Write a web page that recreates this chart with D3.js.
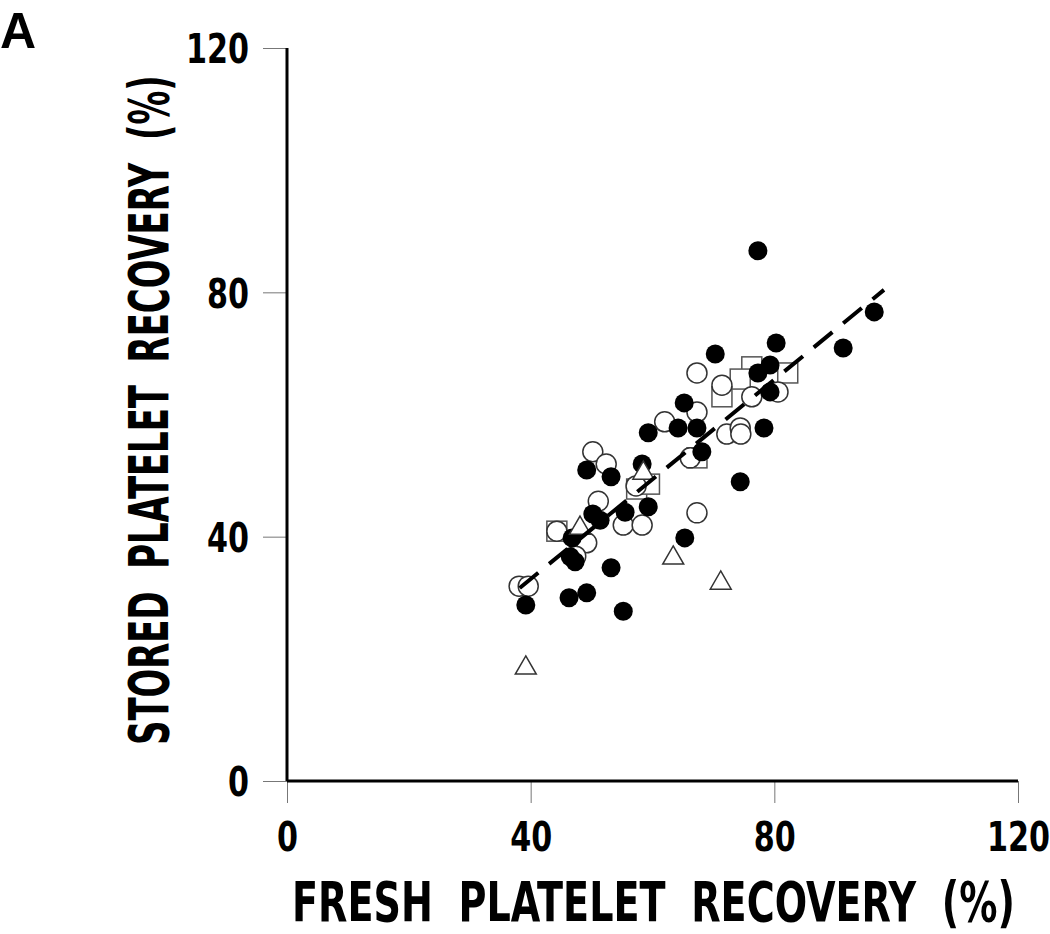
<!DOCTYPE html>
<html>
<head>
<meta charset="utf-8">
<script src="https://cdn.jsdelivr.net/npm/d3@7"></script>
<style>
  html, body { margin: 0; padding: 0; background: #fff; }
  svg { display: block; }
</style>
</head>
<body>
<svg id="chart" width="1050" height="934"></svg>
<script>
// ---- data ----
const xTicks = [0, 40, 80, 120];
const yTicks = [0, 40, 80, 120];

const filledCircles = [
  [77.3,86.8],[96.4,76.8],[91.3,70.9],[80.3,71.7],[70.3,69.9],[79.3,68.1],[77.3,66.8],
  [79.3,63.7],[65.2,61.9],[64.2,57.8],[67.3,57.8],[59.3,57.0],[78.3,57.8],[68.1,53.9],
  [58.3,51.9],[49.2,50.9],[53.2,49.8],[74.4,49.0],[59.3,44.9],[55.5,44.0],[50.2,43.7],
  [51.4,42.7],[65.3,39.8],[46.8,39.8],[46.5,36.7],[47.3,35.9],[53.2,34.9],[49.2,30.8],
  [46.3,30.0],[39.2,28.8],[55.2,27.8]
];
const openCircles = [
  [67.3,66.8],[71.4,64.8],[76.3,62.9],[80.6,63.7],[67.3,60.4],[62.0,58.8],[72.2,56.8],
  [74.4,57.8],[74.5,56.8],[66.2,52.9],[50.2,53.9],[52.4,51.9],[51.1,45.8],[57.3,48.3],
  [67.3,43.9],[55.2,41.9],[58.3,41.9],[44.3,40.9],[49.2,39.0],[47.4,36.8],[38.1,31.9],
  [39.6,31.9]
];
const openSquares = [
  [76.3,67.8],[82.2,66.8],[74.4,65.8],[71.4,62.9],[67.3,52.9],[57.4,47.8],[59.5,48.6],[44.3,40.9]
];
const openTriangles = [
  [39.2,18.5],[63.4,36.5],[71.2,32.4],[58.5,50.4],[48.1,41.4]
];
const fitLineX = [38.2, 98.0];
const fitLineY = [31.6, 80.4];

// ---- layout ----
const svg = d3.select("#chart");
const x = d3.scaleLinear().domain([0, 120]).range([287, 1018]);
const y = d3.scaleLinear().domain([0, 120]).range([781, 48]);
const narrow = "'Liberation Sans Narrow', 'Arial Narrow', 'DejaVu Sans Condensed', sans-serif";

// squeeze a text horizontally to a target width, keeping its anchor point
function squeeze(textSel, targetWidth) {
  textSel.each(function(d) {
    const t = d3.select(this);
    const w = this.getComputedTextLength();
    const tw = typeof targetWidth === "function" ? targetWidth(d) : targetWidth;
    const s = w > 0 ? tw / w : 1;
    const x0 = +t.attr("x") || 0;
    t.attr("x", 0).attr("transform", `translate(${x0},0) scale(${s},1)`);
  });
}

// x axis
const xAxis = svg.append("g").attr("transform", "translate(0,781)")
  .call(d3.axisBottom(x).tickValues(xTicks).tickSize(22).tickPadding(19).tickFormat(d3.format("d")));
xAxis.select(".domain").remove();
xAxis.selectAll(".tick line").attr("stroke", "#777").attr("stroke-width", 1);
xAxis.selectAll(".tick text").attr("font-family", narrow).attr("font-weight", "bold")
  .attr("font-size", 41).attr("fill", "#000").attr("dy", "0.71em")
  .call(squeeze, d => String(d).length * 21);

// y axis
const yAxis = svg.append("g").attr("transform", "translate(287,0)")
  .call(d3.axisLeft(y).tickValues(yTicks).tickSize(24).tickPadding(14).tickFormat(d3.format("d")));
yAxis.select(".domain").remove();
yAxis.selectAll(".tick line").attr("stroke", "#777").attr("stroke-width", 1);
yAxis.selectAll(".tick text").attr("font-family", narrow).attr("font-weight", "bold")
  .attr("font-size", 41).attr("fill", "#000").attr("dy", "0.36em")
  .call(squeeze, d => String(d).length * 21);

// axis lines
svg.append("line").attr("x1", x(0)).attr("x2", x(0)).attr("y1", y(120)).attr("y2", y(0))
  .attr("stroke", "#000").attr("stroke-width", 3);
svg.append("line").attr("x1", x(0)).attr("x2", x(120)).attr("y1", y(0)).attr("y2", y(0))
  .attr("stroke", "#000").attr("stroke-width", 3);

// markers
const g = svg.append("g");
g.selectAll("rect.sq").data(openSquares).enter().append("rect").attr("class", "sq")
  .attr("x", d => x(d[0]) - 10).attr("y", d => y(d[1]) - 10)
  .attr("width", 20).attr("height", 20)
  .attr("fill", "#fff").attr("stroke", "#555").attr("stroke-width", 1.5);
g.selectAll("circle.open").data(openCircles).enter().append("circle").attr("class", "open")
  .attr("cx", d => x(d[0])).attr("cy", d => y(d[1])).attr("r", 10)
  .attr("fill", "#fff").attr("stroke", "#333").attr("stroke-width", 1.5);
g.selectAll("circle.filled").data(filledCircles).enter().append("circle").attr("class", "filled")
  .attr("cx", d => x(d[0])).attr("cy", d => y(d[1])).attr("r", 9.5)
  .attr("fill", "#000");
const tri = d3.symbol().type(d3.symbolTriangle).size(190);
g.selectAll("path.tri").data(openTriangles).enter().append("path").attr("class", "tri")
  .attr("d", tri)
  .attr("transform", d => `translate(${x(d[0])},${y(d[1])})`)
  .attr("fill", "#fff").attr("stroke", "#333").attr("stroke-width", 1.5);

// regression line
svg.append("line")
  .attr("x1", x(fitLineX[0])).attr("y1", y(fitLineY[0]))
  .attr("x2", x(fitLineX[1])).attr("y2", y(fitLineY[1]))
  .attr("stroke", "#000").attr("stroke-width", 4).attr("stroke-dasharray", "24,14");

// titles
const xt = svg.append("g").attr("transform", "translate(292,921)");
xt.append("text").attr("x", 0).attr("y", 0)
  .attr("font-family", narrow).attr("font-weight", "bold").attr("font-size", 55)
  .attr("word-spacing", 16)
  .text("FRESH PLATELET RECOVERY (%)")
  .call(squeeze, 723);

const yt = svg.append("g").attr("transform", "translate(168,745) rotate(-90)");
yt.append("text").attr("x", 0).attr("y", 0)
  .attr("font-family", narrow).attr("font-weight", "bold").attr("font-size", 55)
  .attr("word-spacing", 16)
  .text("STORED PLATELET RECOVERY (%)")
  .call(squeeze, 670);

svg.append("text").attr("x", 0).attr("y", 48)
  .attr("font-family", "'Liberation Sans', Arial, sans-serif").attr("font-weight", "bold")
  .attr("font-size", 50).text("A");
</script>
</body>
</html>
